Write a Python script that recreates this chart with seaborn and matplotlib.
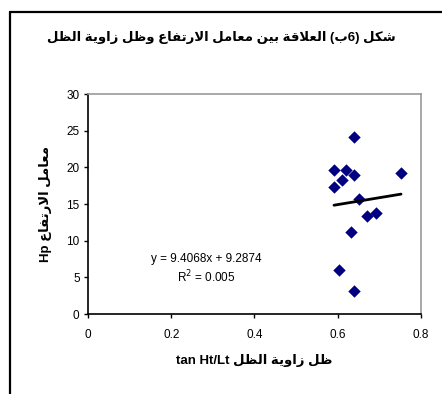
import numpy as np
import pandas as pd
import matplotlib
matplotlib.use("Agg")
import matplotlib.pyplot as plt
import seaborn as sns
from matplotlib.lines import Line2D

# data
tan_ht_lt = [0.640, 0.591, 0.620, 0.640, 0.611, 0.591, 0.752, 0.651, 0.671, 0.692, 0.631, 0.603, 0.640]
hp = [24.2, 19.7, 19.7, 18.95, 18.3, 17.4, 19.3, 15.7, 13.4, 13.8, 11.2, 6.0, 3.2]
slope = 9.4068
intercept = 9.2874
r2 = 0.005
x_ticks = [0, 0.2, 0.4, 0.6, 0.8]
y_ticks = [0, 5, 10, 15, 20, 25, 30]

# --- tiny arabic shaper (matplotlib has no shaping) ---
# letter: (isolated, final, initial, medial); None for initial/medial = joins right only
FORMS = {
    'ا': (0xFE8D, 0xFE8E, None, None),
    'ب': (0xFE8F, 0xFE90, 0xFE91, 0xFE92),
    'ة': (0xFE93, 0xFE94, None, None),
    'ت': (0xFE95, 0xFE96, 0xFE97, 0xFE98),
    'ر': (0xFEAD, 0xFEAE, None, None),
    'ز': (0xFEAF, 0xFEB0, None, None),
    'ش': (0xFEB5, 0xFEB6, 0xFEB7, 0xFEB8),
    'ظ': (0xFEC5, 0xFEC6, 0xFEC7, 0xFEC8),
    'ع': (0xFEC9, 0xFECA, 0xFECB, 0xFECC),
    'ف': (0xFED1, 0xFED2, 0xFED3, 0xFED4),
    'ق': (0xFED5, 0xFED6, 0xFED7, 0xFED8),
    'ك': (0xFED9, 0xFEDA, 0xFEDB, 0xFEDC),
    'ل': (0xFEDD, 0xFEDE, 0xFEDF, 0xFEE0),
    'م': (0xFEE1, 0xFEE2, 0xFEE3, 0xFEE4),
    'ن': (0xFEE5, 0xFEE6, 0xFEE7, 0xFEE8),
    'و': (0xFEED, 0xFEEE, None, None),
    'ي': (0xFEF1, 0xFEF2, 0xFEF3, 0xFEF4),
    'لا': (0xFEFB, 0xFEFC, None, None),
}


def shape_word(word):
    letters = []
    i = 0
    while i < len(word):
        if word[i] == 'ل' and i + 1 < len(word) and word[i + 1] == 'ا':
            letters.append('لا')
            i += 2
        else:
            letters.append(word[i])
            i += 1
    out = []
    for k, ch in enumerate(letters):
        f = FORMS[ch]
        prev_joins = k > 0 and FORMS[letters[k - 1]][2] is not None
        next_joins = f[2] is not None and k + 1 < len(letters)
        if prev_joins and next_joins:
            c = f[3]
        elif prev_joins:
            c = f[1]
        elif next_joins:
            c = f[2]
        else:
            c = f[0]
        out.append(chr(c))
    return "".join(reversed(out))


def rtl(text):
    # visual order for a run of arabic words
    return " ".join(shape_word(w) for w in reversed(text.split()))


title = rtl("العلاقة بين معامل الارتفاع وظل زاوية الظل") + " (" + shape_word("ب") + "6) " + shape_word("شكل")
ylabel = "Hp " + rtl("معامل الارتفاع")
xlabel = "tan Ht/Lt " + rtl("ظل زاوية الظل")

df = pd.DataFrame({"x": tan_ht_lt, "y": hp})

sns.set_style("white")
plt.rcParams['font.family'] = ['Liberation Sans', 'DejaVu Sans']
plt.rcParams['text.color'] = 'black'
plt.rcParams['axes.labelcolor'] = 'black'

fig = plt.figure(figsize=(4.42, 3.94), dpi=100)
ax = fig.add_axes([0.199, 0.203, 0.7535, 0.558])

sns.scatterplot(data=df, x="x", y="y", marker="D", s=40, color="#000080",
                edgecolor="#000080", linewidth=0, ax=ax, zorder=3)

# linear trendline over the data range
xs = np.array([min(tan_ht_lt), max(tan_ht_lt)])
ax.plot(xs, slope * xs + intercept, color="black", lw=2, zorder=4)

ax.set_xlim(0, 0.8)
ax.set_ylim(0, 30)
ax.set_xticks(x_ticks)
ax.set_xticklabels(["0", "0.2", "0.4", "0.6", "0.8"])
ax.set_yticks(y_ticks)
ax.tick_params(axis="both", direction="out", length=3, width=1, labelsize=8.5,
               colors="black", pad=3)
ax.tick_params(axis="x", pad=8)
ax.xaxis.set_ticks_position("bottom")
ax.yaxis.set_ticks_position("left")
for side in ["left", "bottom"]:
    ax.spines[side].set_color("black")
    ax.spines[side].set_linewidth(1.2)
for side in ["top", "right"]:
    ax.spines[side].set_color("#999999")
    ax.spines[side].set_linewidth(1.2)

ax.set_xlabel(xlabel, fontsize=9.5, fontweight="bold", labelpad=9)
ax.set_ylabel(ylabel, fontsize=9.5, fontweight="bold", labelpad=10)

ax.text(0.284, 7.5, "y = 9.4068x + 9.2874", fontsize=8.5, ha="center", va="center")
ax.text(0.284, 5.0, f"R$^2$ = {r2}", fontsize=8.5, ha="center", va="center")

fig.text(0.50, 0.905, title, fontsize=9.5, fontweight="bold", ha="center", va="center")

# outer chart frame (left and top edges visible)
fig.add_artist(Line2D([10 / 442, 10 / 442], [0, 1 - 12 / 394], transform=fig.transFigure,
                      color="black", lw=1.6))
fig.add_artist(Line2D([10 / 442, 1], [1 - 12 / 394, 1 - 12 / 394], transform=fig.transFigure,
                      color="black", lw=1.6))

fig.savefig("out.png", dpi=100)
